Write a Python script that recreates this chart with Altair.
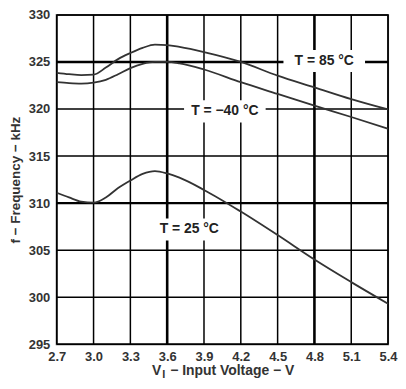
import altair as alt
import pandas as pd

# Input voltage samples (V)
voltage = [2.7, 2.8, 2.9, 3.0, 3.1, 3.2, 3.3, 3.4, 3.5, 3.6, 3.7, 3.9, 4.2, 4.5, 4.8, 5.1, 5.4]
# Frequency (kHz) per temperature
f_85 = [323.85, 323.7, 323.6, 323.65, 324.4, 325.3, 325.95, 326.5, 326.85, 326.8, 326.6, 326.05, 325.0, 323.55, 322.3, 321.05, 319.95]
f_m40 = [322.85, 322.75, 322.7, 322.8, 323.1, 323.7, 324.35, 324.8, 325.0, 325.0, 324.85, 324.2, 322.85, 321.6, 320.35, 319.15, 317.9]
f_25 = [311.1, 310.6, 310.15, 310.05, 310.6, 311.6, 312.4, 313.1, 313.4, 313.15, 312.7, 311.4, 309.1, 306.6, 304.0, 301.6, 299.3]

x_ticks = [2.7, 3.0, 3.3, 3.6, 3.9, 4.2, 4.5, 4.8, 5.1, 5.4]
y_ticks = [295, 300, 305, 310, 315, 320, 325, 330]
x_heavy = [3.6, 4.8]
y_heavy = [310, 325]

label_text = ["T = 85 °C", "T = −40 °C", "T = 25 °C"]
label_x = [4.88, 4.07, 3.78]
label_y = [325.1, 319.75, 307.2]

x_title_main = "V"
x_title_sub = "I"
x_title_rest = "− Input Voltage − V"
y_title = "f − Frequency − kHz"

rows = []
for name, series in [("85", f_85), ("-40", f_m40), ("25", f_25)]:
    for v, f in zip(voltage, series):
        rows.append({"series": name, "v": v, "f": f})
df = pd.DataFrame(rows)
labels = pd.DataFrame({"text": label_text, "v": label_x, "f": label_y})
xg = pd.DataFrame({"v": [t for t in x_ticks if t not in x_heavy]})
xgh = pd.DataFrame({"v": x_heavy})
yg = pd.DataFrame({"f": [t for t in y_ticks if t not in y_heavy]})
ygh = pd.DataFrame({"f": y_heavy})

FONT = "Liberation Sans"
W, H = 333, 331

xscale = alt.Scale(domain=[2.7, 5.4], nice=False, zero=False)
yscale = alt.Scale(domain=[295, 330], nice=False, zero=False)

xaxis = alt.Axis(
    values=x_ticks, format=".1f", title=None, grid=False, labelOverlap=False,
    labelFlush=False, labelBound=False,
    tickSize=0, domain=False, labelPadding=6, labelFont=FONT, labelFontSize=13,
    labelFontWeight="bold", labelColor="#333",
)
yaxis = alt.Axis(
    values=y_ticks, title=y_title, grid=False, labelOverlap=False,
    labelFlush=False, labelBound=False,
    tickSize=0, domain=False, labelPadding=7, labelFont=FONT, labelFontSize=13,
    labelFontWeight="bold", labelColor="#333", titleFont=FONT, titleFontSize=13.5,
    titleFontWeight="bold", titleColor="#333", titlePadding=6,
)

X = alt.X("v:Q", scale=xscale, axis=xaxis)
Y = alt.Y("f:Q", scale=yscale, axis=yaxis)

grid_x = alt.Chart(xg).mark_rule(color="#000", strokeWidth=1.5).encode(x=X)
grid_xh = alt.Chart(xgh).mark_rule(color="#000", strokeWidth=2.6).encode(x=X)
grid_y = alt.Chart(yg).mark_rule(color="#000", strokeWidth=1.5).encode(y=Y)
grid_yh = alt.Chart(ygh).mark_rule(color="#000", strokeWidth=2.4).encode(y=Y)

lines = alt.Chart(df).mark_line(color="#333", strokeWidth=1.8, interpolate="monotone").encode(
    x=X, y=Y, detail="series:N",
)

box = alt.Chart(labels).mark_point(
    shape="M-1,-0.27L1,-0.27L1,0.27L-1,0.27Z", filled=True, fill="white", opacity=1, size=82 * 82,
).encode(x=X, y=Y)

txt = alt.Chart(labels).mark_text(
    font=FONT, fontSize=14, fontWeight="bold", color="#222", align="center", baseline="middle",
).encode(x=X, y=Y, text="text:N")

title_df = pd.DataFrame({"a": [x_title_main], "b": [x_title_sub], "c": [x_title_rest]})
t1 = alt.Chart(title_df).mark_text(font=FONT, fontSize=14, fontWeight="bold", color="#333",
                                   align="right", baseline="middle").encode(
    x=alt.value(105), y=alt.value(H + 27), text="a:N")
t2 = alt.Chart(title_df).mark_text(font=FONT, fontSize=11, fontWeight="bold", color="#333",
                                   align="left", baseline="middle").encode(
    x=alt.value(106), y=alt.value(H + 31), text="b:N")
t3 = alt.Chart(title_df).mark_text(font=FONT, fontSize=14, fontWeight="bold", color="#333",
                                   align="left", baseline="middle").encode(
    x=alt.value(114), y=alt.value(H + 27), text="c:N")

chart = alt.layer(grid_x, grid_xh, grid_y, grid_yh, lines, box, txt, t1, t2, t3).properties(
    width=W, height=H, background="white", padding={"left": 0, "top": 0, "right": 0, "bottom": 0},
).configure_view(stroke="#444", strokeWidth=2)

chart.save("out.html", embed_options={"renderer": "svg", "actions": False})
